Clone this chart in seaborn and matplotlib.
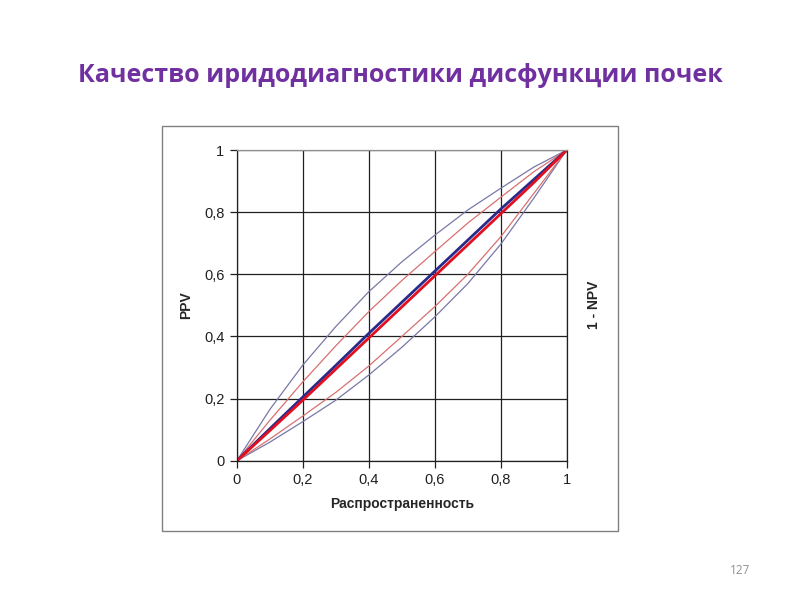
import matplotlib
matplotlib.use('Agg')
import matplotlib.pyplot as plt
import matplotlib.patches as mpatches
import seaborn as sns

# Data
prevalence = [0.0, 0.1, 0.2, 0.3, 0.4, 0.5, 0.6, 0.7, 0.8, 0.9, 1.0]
ppv_mid = [0.0, 0.103, 0.205, 0.307, 0.41, 0.51, 0.61, 0.71, 0.81, 0.905, 1.0]
npv_mid = [0.0, 0.097, 0.195, 0.295, 0.395, 0.495, 0.595, 0.695, 0.795, 0.895, 1.0]
ppv_hi = [0.0, 0.165, 0.308, 0.432, 0.544, 0.64, 0.726, 0.807, 0.877, 0.945, 1.0]
ppv_lo = [0.0, 0.06, 0.126, 0.195, 0.276, 0.365, 0.463, 0.57, 0.697, 0.845, 1.0]
npv_hi = [0.0, 0.13, 0.254, 0.37, 0.48, 0.58, 0.673, 0.765, 0.848, 0.93, 1.0]
npv_lo = [0.0, 0.07, 0.144, 0.22, 0.305, 0.4, 0.496, 0.6, 0.721, 0.86, 1.0]
tick_labels = ['0', '0,2', '0,4', '0,6', '0,8', '1']

sns.set_style('white')
plt.rcParams['font.family'] = ['Liberation Sans', 'DejaVu Sans']

fig = plt.figure(figsize=(8, 6), dpi=100)

# frame around the chart
fig.patches.append(mpatches.Rectangle((162 / 800, 1 - 531 / 600), 456 / 800, 405 / 600,
                                      transform=fig.transFigure, fill=False,
                                      edgecolor='#808080', linewidth=1.0))

ax = fig.add_axes([0.296, 0.232, 0.4125, 0.518])

thin = [(ppv_hi, '#7878a8'), (ppv_lo, '#7878a8'), (npv_hi, '#d87070'), (npv_lo, '#d87070')]
for vals, col in thin:
    sns.lineplot(x=prevalence, y=vals, ax=ax, color=col, linewidth=0.9)
sns.lineplot(x=prevalence, y=ppv_mid, ax=ax, color='#2a2a8a', linewidth=2.0)
sns.lineplot(x=prevalence, y=npv_mid, ax=ax, color='#e01020', linewidth=2.0)

ax.set_xlim(0, 1)
ax.set_ylim(0, 1)
ticks = [0, 0.2, 0.4, 0.6, 0.8, 1.0]
ax.set_xticks(ticks)
ax.set_yticks(ticks)
ax.set_xticklabels(tick_labels)
ax.set_yticklabels(tick_labels)
ax.grid(True, color='#202020', linewidth=0.9)
ax.tick_params(axis='both', direction='out', length=5, width=0.9, color='#202020',
               labelsize=10.5, labelcolor='#202020', pad=4, bottom=True, left=True)
for side in ['left', 'bottom', 'right']:
    ax.spines[side].set_color('#202020')
    ax.spines[side].set_linewidth(0.9)
ax.spines['top'].set_color('#909090')
ax.spines['top'].set_linewidth(0.9)
ax.set_axisbelow(True)
ax.set_xlabel('Распространенность', fontsize=10, fontweight='bold', labelpad=7)
ax.set_ylabel('PPV', fontsize=10, fontweight='bold', labelpad=8)

fig.text(594 / 800, 1 - 305 / 600, '1 - NPV', rotation=90, fontsize=10,
         fontweight='bold', ha='center', va='center')

fig.text(0.5, 1 - 75 / 600, 'Качество иридодиагностики дисфункции почек',
         fontsize=18, fontweight='bold', color='#7030a0', ha='center', va='center',
         family=['Open Sans', 'DejaVu Sans'])
fig.text(740 / 800, 1 - 570 / 600, '127', fontsize=8.5, color='#909090',
         ha='center', va='center', family=['Open Sans', 'DejaVu Sans'])

fig.savefig('out.png', dpi=100)
